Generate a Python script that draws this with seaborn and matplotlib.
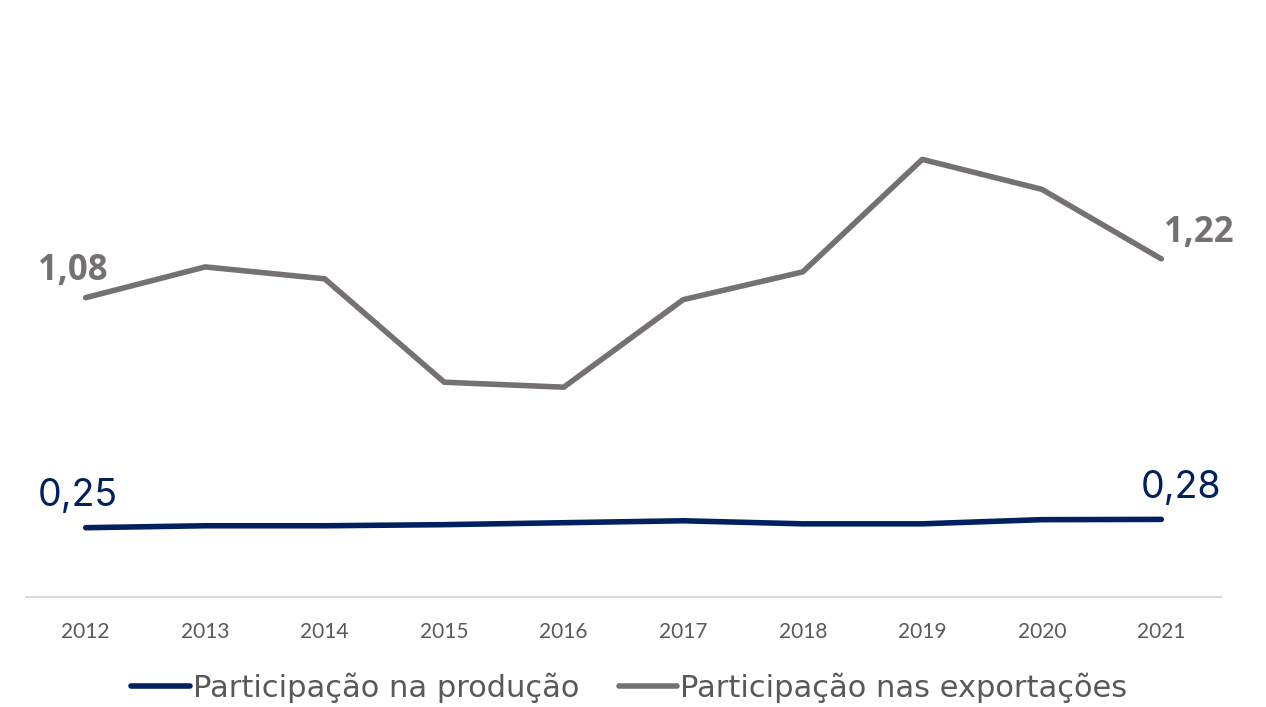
import numpy as np
import pandas as pd
import matplotlib
matplotlib.use("Agg")
import matplotlib.pyplot as plt
import seaborn as sns

# ========== DATA ==========
anos = ["2012", "2013", "2014", "2015", "2016", "2017", "2018", "2019", "2020", "2021"]
producao = [0.25, 0.257, 0.257, 0.261, 0.268, 0.275, 0.264, 0.264, 0.279, 0.28]
exportacoes = [1.08, 1.191, 1.148, 0.775, 0.757, 1.073, 1.173, 1.579, 1.471, 1.22]
series = ["Participação na produção", "Participação nas exportações"]
cores = ["#002060", "#767171"]

df = pd.DataFrame({
    "ano": anos * 2,
    "valor": producao + exportacoes,
    "serie": [series[0]] * len(anos) + [series[1]] * len(anos),
})

# ========== PLOT ==========
sns.set_style("white")
plt.rcParams["font.family"] = ["Lato", "DejaVu Sans"]

fig = plt.figure(figsize=(12.66, 7.07), dpi=100)
ax = fig.add_axes([0.0205, 0.1556, 0.944, 0.784])

sns.lineplot(data=df, x="ano", y="valor", hue="serie", palette=cores,
             linewidth=4, solid_capstyle="round", ax=ax, legend=False, sort=False)

ax.set_xlim(-0.5, len(anos) - 0.5)
ax.set_ylim(0, 2)
ax.set_xlabel("")
ax.set_ylabel("")
ax.set_yticks([])
ax.tick_params(axis="x", length=0, pad=18, labelsize=15, labelcolor="#595959")
for s in ["top", "right", "left"]:
    ax.spines[s].set_visible(False)
ax.spines["bottom"].set_color("#d9d9d9")
ax.spines["bottom"].set_linewidth(1.5)

def fmt(v):
    return f"{v:.2f}".replace(".", ",")

bold_font = ["Open Sans", "DejaVu Sans"]
ax.annotate(fmt(exportacoes[0]), (0, exportacoes[0]), xytext=(-9, 6), textcoords="offset points",
            ha="center", va="bottom", fontsize=25, fontweight="bold", color=cores[1],
            family=bold_font)
ax.annotate(fmt(exportacoes[-1]), (len(anos) - 1, exportacoes[-1]), xytext=(2, 6),
            textcoords="offset points", ha="left", va="bottom", fontsize=25,
            fontweight="bold", color=cores[1], family=bold_font)
ax.annotate(fmt(producao[0]), (0, producao[0]), xytext=(-6, 10), textcoords="offset points",
            ha="center", va="bottom", fontsize=27, color=cores[0], family=["Inter", "DejaVu Sans"])
ax.annotate(fmt(producao[-1]), (len(anos) - 1, producao[-1]), xytext=(14, 10),
            textcoords="offset points", ha="center", va="bottom", fontsize=27,
            color=cores[0], family=["Inter", "DejaVu Sans"])

handles = [plt.Line2D([], [], color=c, linewidth=4, solid_capstyle="round") for c in cores]
fig.legend(handles, series, loc="center", bbox_to_anchor=(0.497, 0.027), ncol=2, frameon=False,
           handlelength=1.9, handletextpad=0.1, columnspacing=1.3,
           prop={"family": ["DejaVu Sans"], "size": 22}, labelcolor="#595959")

fig.savefig("out.png", dpi=100)
